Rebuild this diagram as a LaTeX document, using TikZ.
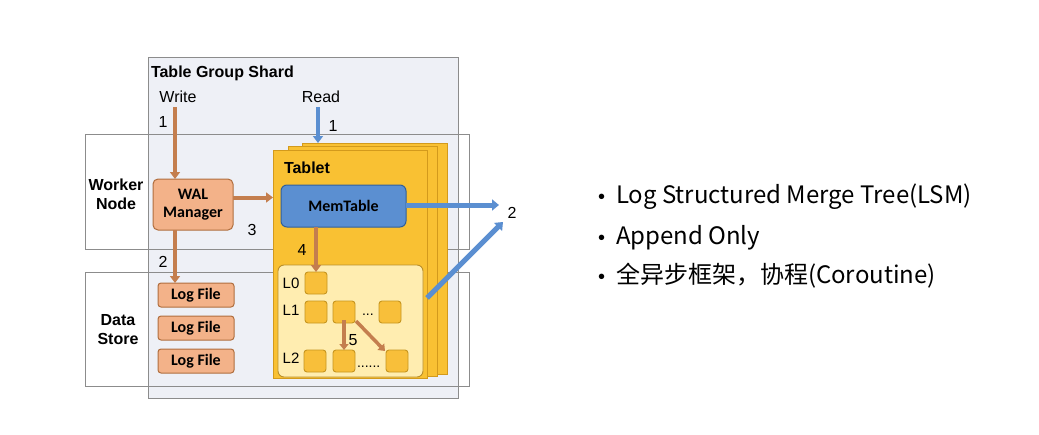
\documentclass[tikz,border=0pt]{standalone}
\usepackage{fontspec}
\setmainfont{Liberation Sans}
\newfontfamily\calfont{Carlito}
\newfontfamily\cjkfont{Noto Sans CJK SC}
\usetikzlibrary{arrows.meta,calc}
\definecolor{shardfill}{HTML}{EEF0F6}
\definecolor{framegray}{HTML}{8C8C8C}
\definecolor{orarrow}{HTML}{C47E4E}
\definecolor{walfill}{HTML}{F3B289}
\definecolor{waldraw}{HTML}{B06E3E}
\definecolor{tabfill}{HTML}{F9C133}
\definecolor{tabdraw}{HTML}{D39A1C}
\definecolor{lvfill}{HTML}{FFEDB0}
\definecolor{lvdraw}{HTML}{B88E2C}
\definecolor{sqfill}{HTML}{F8BF3A}
\definecolor{sqdraw}{HTML}{C6951F}
\definecolor{memfill}{HTML}{5B8FD1}
\definecolor{memdraw}{HTML}{30609C}
\definecolor{bluearrow}{HTML}{5B8FD1}
\newcommand{\bdot}{{\rmfamily\fontsize{20}{24}\selectfont •}\hspace{11pt}}
\tikzset{
  x=1pt, y=-1pt,
  every node/.style={inner sep=0pt, outer sep=0pt},
  frame/.style={draw=framegray, line width=0.8pt, anchor=north west},
  lbl/.style={font=\fontsize{16}{19}\selectfont},
  blbl/.style={font=\bfseries\fontsize{16}{19}\selectfont, align=center},
  walbox/.style={draw=waldraw, fill=walfill, line width=1pt, rounded corners=5pt, anchor=north west,
    font=\calfont\bfseries\fontsize{16}{18}\selectfont, align=center},
  tabbox/.style={draw=tabdraw, fill=tabfill, line width=0.9pt, anchor=north west},
  sq/.style={draw=sqdraw, fill=sqfill, line width=0.9pt, rounded corners=3pt, anchor=north west,
    minimum width=22pt, minimum height=22pt},
  oarr/.style={draw=orarrow, line width=4pt, -{Triangle[width=10pt,length=7pt]}},
  barr/.style={draw=bluearrow, line width=5pt, -{Triangle[width=11pt,length=7pt]}},
  bullet/.style={anchor=west, font=\cjkfont\fontsize{24}{28}\selectfont},
}
\begin{document}
\begin{tikzpicture}
\path[use as bounding box, fill=white] (0,0) rectangle (1039,434);
% outer shard
\node[frame, fill=shardfill, minimum width=310pt, minimum height=341pt] (shard) at (148,57) {};
\node[anchor=west, font=\bfseries\fontsize{16}{19}\selectfont] (shardlbl) at (151,73) {Table Group Shard};
% worker node / data store
\node[frame, minimum width=384pt, minimum height=115pt] (worker) at (85,134) {};
\node[frame, minimum width=384pt, minimum height=114pt] (store) at (85,272) {};
\node[blbl] (workerlbl) at (116,194) {Worker\\Node};
\node[blbl] (storelbl) at (118,330) {Data\\Store};
% write / read
\node[lbl] (write) at (178,97) {Write};
\node[lbl] (read) at (321,97) {Read};
% WAL and logs
\node[walbox, minimum width=80pt, minimum height=51pt] (wal) at (153,179) {WAL\\Manager};
\node[walbox, rounded corners=3pt, minimum width=76pt, minimum height=24pt] (log1) at (158,283) {Log File};
\node[walbox, rounded corners=3pt, minimum width=76pt, minimum height=24pt] (log2) at (158,316) {Log File};
\node[walbox, rounded corners=3pt, minimum width=76pt, minimum height=24pt] (log3) at (158,349) {Log File};
% tablets
\node[tabbox, minimum width=145pt, minimum height=231pt] (tabback) at (302,143) {};
\node[tabbox, minimum width=149pt, minimum height=230pt] (tabmid) at (288,146.5) {};
\node[tabbox, minimum width=154pt, minimum height=228pt] (tab) at (273,150) {};
\node[anchor=west, font=\bfseries\fontsize{16}{19}\selectfont] (tablbl) at (284,168) {Tablet};
\node[draw=memdraw, fill=memfill, line width=1pt, rounded corners=6pt, anchor=north west,
  minimum width=125pt, minimum height=42pt, font=\calfont\bfseries\fontsize{16}{19}\selectfont] (mem) at (281,185) {MemTable};
% level box
\node[draw=lvdraw, fill=lvfill, line width=0.9pt, rounded corners=6pt, anchor=north west,
  minimum width=145pt, minimum height=112pt] (lv) at (278,265) {};
\node[lbl, font=\fontsize{15}{18}\selectfont] (l0lbl) at (291,283) {L0};
\node[lbl, font=\fontsize{15}{18}\selectfont] (l1lbl) at (291,310) {L1};
\node[lbl, font=\fontsize{15}{18}\selectfont] (l2lbl) at (291,358) {L2};
\node[sq] (l0a) at (305,272) {};
\node[sq] (l1a) at (305,301) {};
\node[sq] (l1b) at (333,301) {};
\node[sq] (l1c) at (379,301) {};
\node[sq] (l2a) at (304,350) {};
\node[sq] (l2b) at (333,350) {};
\node[sq] (l2c) at (386,350) {};
\node[anchor=base west, font=\fontsize{14}{16}\selectfont] (l1dots) at (362,315) {...};
\node[anchor=base west, font=\fontsize{14}{16}\selectfont] (l2dots) at (357,367) {......};
% numbers
\node[lbl] (n1w) at (163,122) {1};
\node[lbl] (n1r) at (333,126) {1};
\node[lbl] (n2w) at (163,262) {2};
\node[lbl] (n3) at (252,230) {3};
\node[lbl] (n4) at (302,250) {4};
\node[lbl] (n5) at (353,340) {5};
\node[lbl] (n2r) at (512,213) {2};
% arrows
\coordinate (wx) at (175,107);
\draw[oarr] (wx) -- (wx |- wal.north);
\draw[oarr] (wx |- wal.south) -- (wx |- log1.north);
\draw[oarr] ([yshift=7pt]wal.east) -- ([yshift=7pt]wal.east -| tab.west);
\coordinate (rx) at (318,107);
\draw[draw=bluearrow, line width=4pt, -{Triangle[width=10pt,length=7pt]}] (rx) -- (rx |- tabback.north);
\draw[oarr] (l0a.north |- mem.south) -- (l0a.north);
\draw[draw=orarrow, line width=3.5pt, -{Triangle[width=9pt,length=6pt]}] ([yshift=3pt]l1b.south) -- (l2b.north);
\draw[draw=orarrow, line width=3.5pt, -{Triangle[width=9pt,length=6pt]}] ([xshift=1pt,yshift=2pt]l1b.south east) -- ([xshift=-1pt,yshift=-1pt]l2c.north west);
\coordinate (b2a) at (499,205);
\coordinate (b2b) at (503,222);
\draw[barr] (mem.east |- b2a) -- (b2a);
\draw[barr] (tab.east |- 0,298) -- (b2b);
% bullets
\node[bullet] (b1) at (598,197) {\bdot Log Structured Merge Tree(LSM)};
\node[bullet] (b2) at (598,238) {\bdot Append Only};
\node[bullet] (b3) at (598,276) {\bdot 全异步框架，协程(Coroutine)};
\end{tikzpicture}
\end{document}
